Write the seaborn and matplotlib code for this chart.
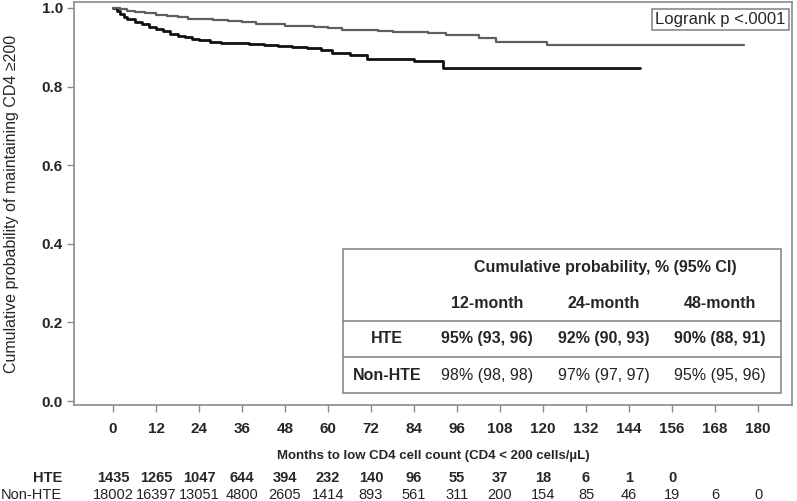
import pandas as pd
import matplotlib
matplotlib.use("Agg")
import matplotlib.pyplot as plt
import matplotlib.transforms as mtrans
from matplotlib.patches import Rectangle
import seaborn as sns


###########################
# Data

hte_months = [0, 1, 2, 3, 4, 6, 8, 10, 12, 14, 16, 18, 20, 22, 24, 27, 30, 33, 38,
              42, 46, 50, 54, 58, 61, 66, 71, 84, 92, 147]
hte_surv = [1.0, 0.993, 0.985, 0.978, 0.973, 0.965, 0.958, 0.952, 0.946, 0.940, 0.934,
            0.929, 0.925, 0.922, 0.918, 0.914, 0.912, 0.910, 0.908, 0.906, 0.903, 0.900,
            0.897, 0.893, 0.886, 0.880, 0.870, 0.864, 0.847, 0.847]

nonhte_months = [0, 2, 4, 6, 9, 12, 15, 18, 21, 24, 28, 32, 36, 40, 44, 48, 52, 56, 60,
                 64, 68, 74, 78, 88, 93, 102, 107, 121, 176]
nonhte_surv = [1.0, 0.996, 0.993, 0.990, 0.986, 0.982, 0.979, 0.976, 0.973, 0.971, 0.968,
               0.966, 0.963, 0.960, 0.958, 0.955, 0.953, 0.951, 0.948, 0.945, 0.943, 0.941,
               0.938, 0.936, 0.930, 0.923, 0.913, 0.906, 0.906]

tick_months = list(range(0, 181, 12))
hte_at_risk = [1435, 1265, 1047, 644, 394, 232, 140, 96, 55, 37, 18, 6, 1, 0]
nonhte_at_risk = [18002, 16397, 13051, 4800, 2605, 1414, 893, 561, 311, 200, 154, 85, 46, 19, 6, 0]

table_cols = ["12-month", "24-month", "48-month"]
hte_cum = ["95% (93, 96)", "92% (90, 93)", "90% (88, 91)"]
nonhte_cum = ["98% (98, 98)", "97% (97, 97)", "95% (95, 96)"]

groups = ["HTE", "Non-HTE"]
colors = {"HTE": "#111111", "Non-HTE": "#5f5f5f"}
widths = {"HTE": 2.0, "Non-HTE": 1.6}

df = pd.concat([
    pd.DataFrame({"month": hte_months, "surv": hte_surv, "group": "HTE"}),
    pd.DataFrame({"month": nonhte_months, "surv": nonhte_surv, "group": "Non-HTE"}),
])

###########################
# Plot

sns.set_style("ticks")
plt.rcParams["font.family"] = ["Liberation Sans", "DejaVu Sans"]

fig = plt.figure(figsize=(7.97, 5.01), dpi=100)
ax = fig.add_axes([0.0928, 0.1916, 0.901, 0.8044])

for g in groups:
    sns.lineplot(data=df[df["group"] == g], x="month", y="surv", color=colors[g],
                 linewidth=widths[g], drawstyle="steps-post", estimator=None,
                 ax=ax, legend=False)

ax.set_xlim(-10.9, 189.5)
ax.set_ylim(-0.010, 1.015)
ax.set_xticks(tick_months)
ax.set_yticks([0.0, 0.2, 0.4, 0.6, 0.8, 1.0])
ax.set_yticklabels(["0.0", "0.2", "0.4", "0.6", "0.8", "1.0"])
ax.tick_params(axis="both", direction="out", length=5, width=1, color="#8a8a8a",
               labelsize=11, pad=3, bottom=True, left=True)
ax.tick_params(axis="x", pad=7)
for lab in ax.get_xticklabels() + ax.get_yticklabels():
    lab.set_fontweight("bold")
for sp in ax.spines.values():
    sp.set_visible(True)
    sp.set_color("#8a8a8a")
    sp.set_linewidth(1.2)

ax.set_ylabel("Cumulative probability of maintaining CD4 \u2265200", fontsize=11.5)
ax.yaxis.set_label_coords(-0.077, 0.5)
ax.set_xlabel("Months to low CD4 cell count (CD4 < 200 cells/\u00b5L)", fontsize=9.5,
              fontweight="bold")
ax.xaxis.set_label_coords(0.5, -0.112)

# Logrank box
ax.text(0.991, 0.976, "Logrank p <.0001", transform=ax.transAxes, ha="right", va="top",
        fontsize=12, bbox=dict(boxstyle="square,pad=0.18", fc="white", ec="#8a8a8a", lw=1.2))

# Inset table
tx = ax.transAxes
ax.add_patch(Rectangle((0.3747, 0.030), 0.610, 0.357, transform=tx, fill=True,
                       fc="white", ec="#8a8a8a", lw=1.2, zorder=3))
for yy in [0.2084, 0.119]:
    ax.plot([0.3747, 0.9847], [yy, yy], transform=tx, color="#8a8a8a", lw=1.2, zorder=4)

col_x = [0.575, 0.738, 0.900]
ax.text(0.740, 0.340, "Cumulative probability, % (95% CI)", transform=tx, ha="center",
        va="center", fontsize=11.5, fontweight="bold", zorder=5)
for cx, c in zip(col_x, table_cols):
    ax.text(cx, 0.253, c, transform=tx, ha="center", va="center", fontsize=11.5,
            fontweight="bold", zorder=5)
ax.text(0.436, 0.164, "HTE", transform=tx, ha="center", va="center", fontsize=11.5,
        fontweight="bold", zorder=5)
ax.text(0.436, 0.072, "Non-HTE", transform=tx, ha="center", va="center", fontsize=11.5,
        fontweight="bold", zorder=5)
for cx, a, b in zip(col_x, hte_cum, nonhte_cum):
    ax.text(cx, 0.164, a, transform=tx, ha="center", va="center", fontsize=11.5,
            fontweight="bold", zorder=5)
    ax.text(cx, 0.072, b, transform=tx, ha="center", va="center", fontsize=11.5,
            color="#222222", zorder=5)

# Numbers at risk
bt = mtrans.blended_transform_factory(ax.transData, fig.transFigure)
fig.text(0.078, 0.046, "HTE", ha="right", va="center", fontsize=10.5, fontweight="bold")
fig.text(0.078, 0.012, "Non-HTE", ha="right", va="center", fontsize=10.5, color="#222222")
for m, n in zip(tick_months, hte_at_risk):
    ax.text(m, 0.046, str(n), transform=bt, ha="center", va="center", fontsize=10.5,
            fontweight="bold", clip_on=False)
for m, n in zip(tick_months, nonhte_at_risk):
    ax.text(m, 0.012, str(n), transform=bt, ha="center", va="center", fontsize=10.5,
            color="#222222", clip_on=False)

fig.savefig("out.png", dpi=100)
